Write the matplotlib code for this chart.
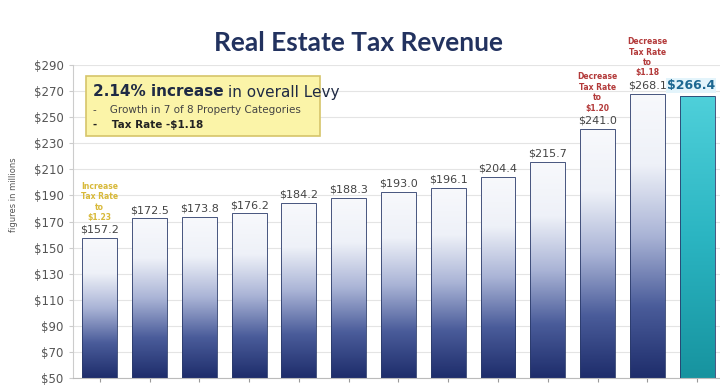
import matplotlib
matplotlib.use("Agg")
import matplotlib.pyplot as plt
import numpy as np
from matplotlib.colors import LinearSegmentedColormap

values = [157.2, 172.5, 173.8, 176.2, 184.2, 188.3, 193.0, 196.1, 204.4, 215.7, 241.0, 268.1, 266.4]
value_labels = ["$%.1f" % v for v in values]
rate_notes = {0: "Increase\nTax Rate\nto\n$1.23", 10: "Decrease\nTax Rate\nto\n$1.20", 11: "Decrease\nTax Rate\nto\n$1.18"}
note_colors = {0: "#d8b93a", 10: "#b33a3a", 11: "#b33a3a"}
yticks = list(range(50, 291, 20))

fig = plt.figure(figsize=(7.2, 3.9), dpi=100)
fig.patch.set_facecolor("white")
ax = fig.add_axes([0.101, 0.031, 0.899, 0.802])
ax.set_facecolor("white")

x = np.arange(len(values))
width = 0.70
bars = ax.bar(x, np.array(values) - 50, width, bottom=50, color="none", edgecolor="#2a3a6a", linewidth=0.6, zorder=3)

# vertical gradients clipped to each bar
navy = LinearSegmentedColormap.from_list("navy", ["#1e2d6b", "#4a5c9a", "#aab4d6", "#eef1f8", "#f8f9fc"])
teal = LinearSegmentedColormap.from_list("teal", ["#17939f", "#2bb5c2", "#4fd0da"])
grad = np.linspace(0, 1, 256).reshape(-1, 1)
for i, b in enumerate(bars):
    cmap = teal if i == len(values) - 1 else navy
    top = b.get_y() + b.get_height()
    im = ax.imshow(grad, cmap=cmap, aspect="auto", origin="lower",
                   extent=[b.get_x(), b.get_x() + b.get_width(), 50, top], zorder=2)
    im.set_clip_path(b)

ax.set_xlim(-0.543, 12.46)
ax.set_ylim(50, 290)
ax.set_yticks(yticks)
ax.set_yticklabels(["$%d" % t for t in yticks], color="#555555", fontsize=8.5)
ax.set_xticks(x)
ax.set_xticklabels([])
ax.tick_params(axis="x", length=3, color="#999999")
ax.tick_params(axis="y", length=3, color="#cccccc")
ax.grid(axis="y", color="#e4e4e4", linewidth=0.8, zorder=0)
for s in ["top", "right"]:
    ax.spines[s].set_visible(False)
ax.spines["left"].set_color("#cccccc")
ax.spines["bottom"].set_color("#bbbbbb")

# value labels
for i, v in enumerate(values):
    if i == len(values) - 1:
        ax.text(i + 0.36, v + 3, value_labels[i], ha="right", va="bottom", fontsize=9,
                fontweight="bold", color="#1d6791", zorder=5,
                bbox=dict(boxstyle="square,pad=0.1", fc="#e3f4fb", ec="none"))
    else:
        ax.text(i, v + 2.5, value_labels[i], ha="center", va="bottom", fontsize=8,
                color="#444444", zorder=5)

for i, note in rate_notes.items():
    ax.text(i, values[i] + 12.5, note, ha="center", va="bottom", fontsize=5.5,
            color=note_colors[i], linespacing=1.2, zorder=5, fontweight="bold")

fig.text(14 / 720, 0.5, "figures in millions", rotation=90,
         ha="center", va="center", fontsize=6, color="#555555")

# summary box
fig.patches.append(plt.Rectangle((86 / 720, 1 - 136 / 390), 234 / 720, 60 / 390,
                                 transform=fig.transFigure, fc="#fbf4a8", ec="#d6c56a",
                                 lw=1.2, zorder=6))
t1 = fig.text(93 / 720, 1 - 92 / 390, "2.14% increase", fontsize=11, fontweight="bold",
              color="#1f2a44", va="center", zorder=7)
fig.canvas.draw()
bb = t1.get_window_extent()
fig.text((bb.x1 + 4) / 720, 1 - 92 / 390, "in overall Levy", fontsize=11, color="#1f2a44",
         va="center", zorder=7)
fig.text(93 / 720, 1 - 110 / 390, "-    Growth in 7 of 8 Property Categories", fontsize=7.5,
         color="#444444", va="center", zorder=7)
fig.text(93 / 720, 1 - 125 / 390, "-    Tax Rate -$1.18", fontsize=7.5, fontweight="bold",
         color="#222222", va="center", zorder=7)

fig.text(358 / 720, 1 - 43 / 390, "Real Estate Tax Revenue", ha="center", va="center",
         fontsize=19, fontweight="bold", color="#22325f", family="Lato")

fig.savefig("out.png", dpi=100)
